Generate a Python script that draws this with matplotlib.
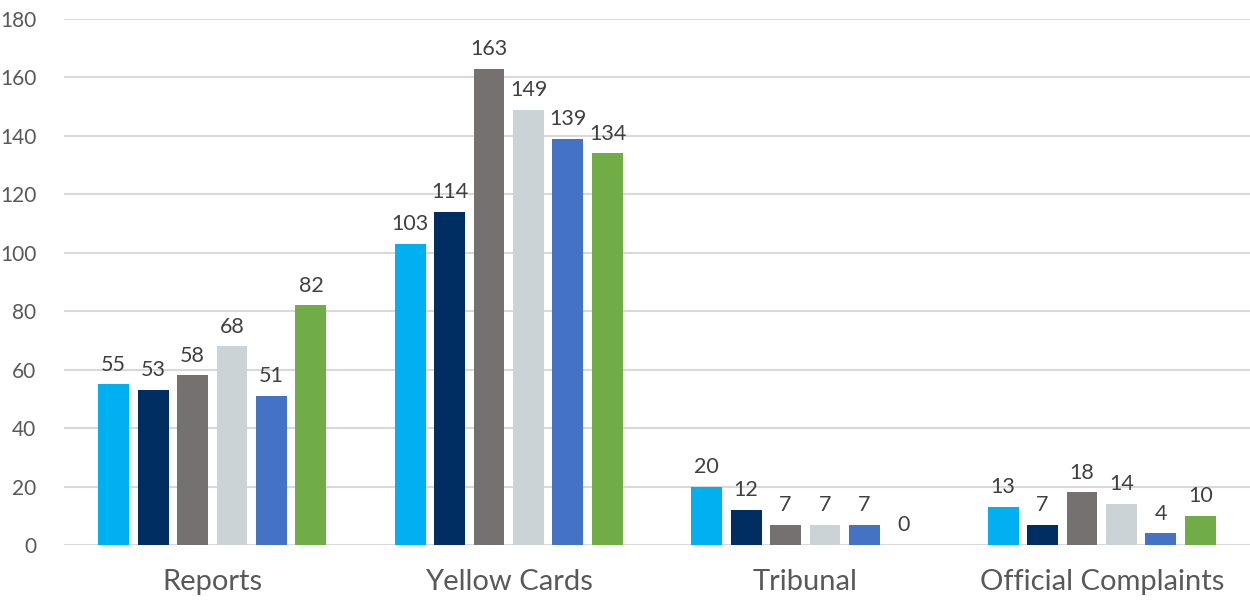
import matplotlib
matplotlib.use("Agg")
import matplotlib.pyplot as plt
import numpy as np

categories = ["Reports", "Yellow Cards", "Tribunal", "Official Complaints"]
series_values = [
    [55, 103, 20, 13],
    [53, 114, 12, 7],
    [58, 163, 7, 18],
    [68, 149, 7, 14],
    [51, 139, 7, 4],
    [82, 134, 0, 10],
]
colors = ["#00B0F0", "#002D62", "#767171", "#CBD3D6", "#4472C4", "#70AD47"]
yticks = [0, 20, 40, 60, 80, 100, 120, 140, 160, 180]

plt.rcParams['font.family'] = ['Lato', 'DejaVu Sans']
text_color = "#595959"

fig = plt.figure(figsize=(12.5, 6.01), dpi=100)
ax = fig.add_axes([0.0512, 0.0932, 0.9488, 0.8752])

x = np.arange(len(categories))
pitch = 0.1332
width = 0.1045
n = len(series_values)
for i, vals in enumerate(series_values):
    offs = (i - (n - 1) / 2) * pitch
    bars = ax.bar(x + offs, vals, width=width, color=colors[i], zorder=3)
    for b, v in zip(bars, vals):
        ax.annotate(str(v), (b.get_x() + b.get_width() / 2, b.get_height()),
                    xytext=(0, 7), textcoords="offset points",
                    ha="center", va="bottom", fontsize=15.5, color="#404040")

ax.set_xlim(-0.5, len(categories) - 0.5)
ax.set_ylim(0, 180)
ax.set_yticks(yticks)
ax.set_yticklabels([str(t) for t in yticks], fontsize=15, color=text_color)
ax.set_xticks(x)
ax.set_xticklabels(categories, fontsize=21, color=text_color)
ax.tick_params(axis='both', length=0)
ax.tick_params(axis='y', pad=20)
ax.tick_params(axis='x', pad=17)
for s in ax.spines.values():
    s.set_visible(False)
ax.yaxis.grid(True, color="#D9D9D9", linewidth=1.5, zorder=0)
ax.set_axisbelow(True)

fig.savefig("out.png", dpi=100)
